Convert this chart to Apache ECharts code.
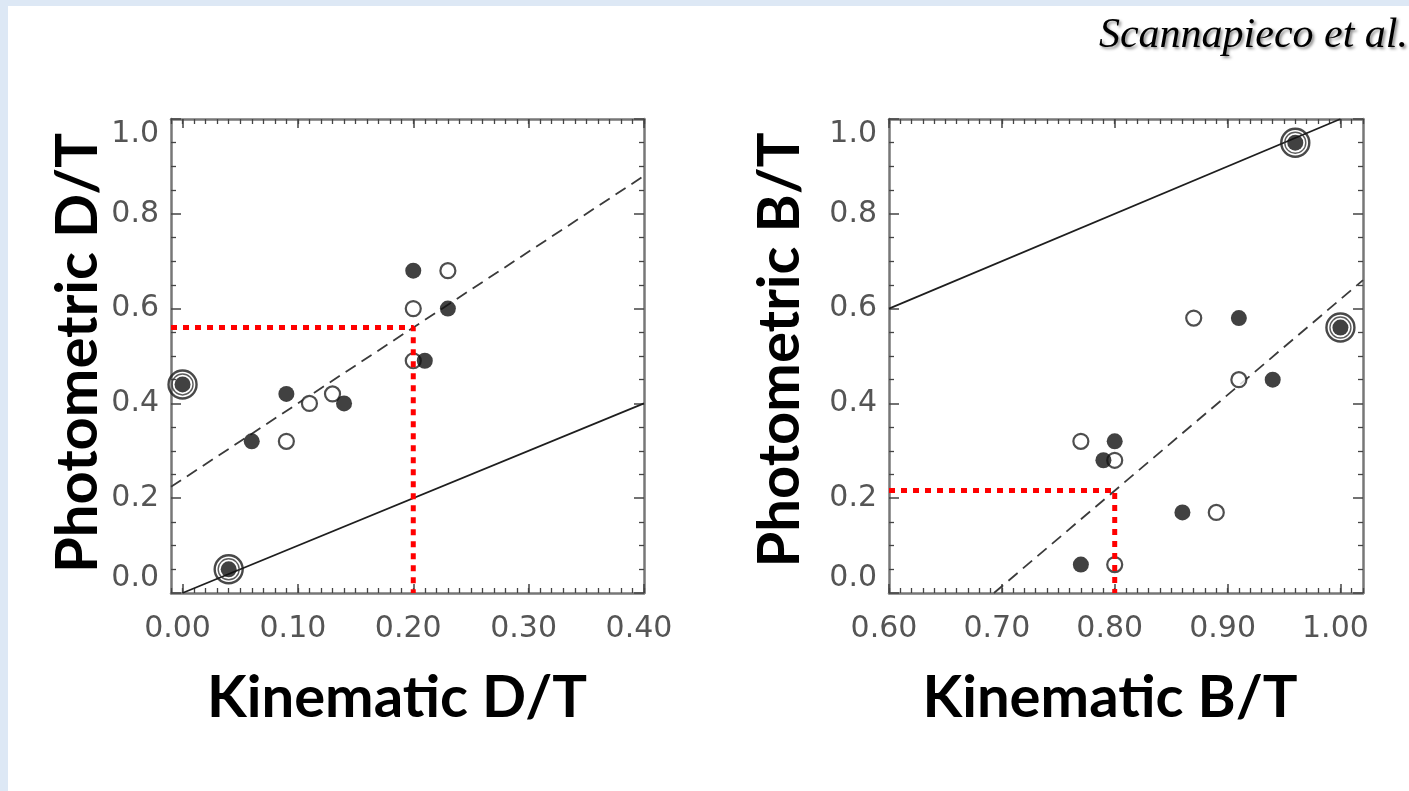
<!DOCTYPE html>
<html>
<head>
<meta charset="utf-8">
<script src="https://cdn.jsdelivr.net/npm/echarts@6/dist/echarts.min.js"></script>
<style>
  html, body { margin: 0; padding: 0; background: #ffffff; }
  #chart { width: 1409px; height: 791px; }
</style>
</head>
<body>
<div id="chart"></div>
<script>
// ---------------- DATA ----------------
// Left panel: Kinematic D/T (x) vs Photometric D/T (y)
const dtFilledX = [0.00, 0.04, 0.06, 0.09, 0.14, 0.20, 0.23, 0.21];
const dtFilledY = [0.44, 0.05, 0.32, 0.42, 0.40, 0.68, 0.60, 0.49];
const dtOpenX   = [0.09, 0.11, 0.13, 0.20, 0.23, 0.20];
const dtOpenY   = [0.32, 0.40, 0.42, 0.60, 0.68, 0.49];
const dtRingX   = [0.00, 0.04];
const dtRingY   = [0.44, 0.05];
const dtOneToOneX = [0.00, 0.40];
const dtOneToOneY = [0.00, 0.40];
const dtFitX    = [-0.01, 0.40];
const dtFitY    = [0.224, 0.88];
const dtGuideX  = [-0.01, 0.20, 0.20];
const dtGuideY  = [0.56, 0.56, 0.00];

// Right panel: Kinematic B/T (x) vs Photometric B/T (y)
const btFilledX = [0.96, 1.00, 0.91, 0.94, 0.80, 0.79, 0.86, 0.77];
const btFilledY = [0.95, 0.56, 0.58, 0.45, 0.32, 0.28, 0.17, 0.06];
const btOpenX   = [0.87, 0.91, 0.77, 0.80, 0.89, 0.80];
const btOpenY   = [0.58, 0.45, 0.32, 0.28, 0.17, 0.06];
const btRingX   = [0.96, 1.00];
const btRingY   = [0.95, 0.56];
const btOneToOneX = [0.60, 1.00];
const btOneToOneY = [0.60, 1.00];
const btFitX    = [0.693, 1.02];
const btFitY    = [0.00, 0.66];
const btGuideX  = [0.60, 0.80, 0.80];
const btGuideY  = [0.216, 0.216, 0.00];

// Axis ranges / tick labels
const dtXRange = [-0.01, 0.40];
const dtXMajor = [0.00, 0.40];
const btXRange = [0.60, 1.02];
const btXMajor = [0.60, 1.00];
const yRange   = [0.0, 1.0];

const titles = {
  dtX: 'Kinematic D/T', dtY: 'Photometric D/T',
  btX: 'Kinematic B/T', btY: 'Photometric B/T',
  credit: 'Scannapieco et al.'
};

// ---------------- LAYOUT / STYLE ----------------
const zip = (xs, ys) => xs.map((x, i) => [x, ys[i]]);
const PANEL_TOP = 119, PANEL_H = 474;
const L = { left: 171, width: 473 };
const R = { left: 889, width: 474 };
const AX = '#777';
const TK = '#444';
const LABEL_FONT = 'DejaVu Sans';
const TITLE_FONT = 'bold 58px Lato';

function majorRect(box, range, major) {
  const span = range[1] - range[0];
  return {
    left: box.left + (major[0] - range[0]) / span * box.width,
    width: (major[1] - major[0]) / span * box.width
  };
}
const Lm = majorRect(L, dtXRange, dtXMajor);
const Rm = majorRect(R, btXRange, btXMajor);

function grid(r) {
  return { left: r.left, top: PANEL_TOP, width: r.width, height: PANEL_H,
           containLabel: false, outerBoundsMode: 'none' };
}

function boxX(gi, range, pos) {
  return {
    type: 'value', gridIndex: gi, position: pos, min: range[0], max: range[1], interval: 0.01,
    axisLine: { show: true, onZero: false, lineStyle: { color: AX, width: 2.5 } },
    axisTick: { show: true, inside: true, length: 5, lineStyle: { color: TK, width: 1.3 } },
    axisLabel: { show: false }, splitLine: { show: false }
  };
}
function majorX(gi, range, pos, labels) {
  return {
    type: 'value', gridIndex: gi, position: pos, min: range[0], max: range[1], interval: 0.1,
    axisLine: { show: false, onZero: false },
    axisTick: { show: true, inside: true, length: 9, lineStyle: { color: TK, width: 1.5 } },
    axisLabel: labels ? {
      show: true, margin: 21, color: '#555', fontFamily: LABEL_FONT, fontSize: 30,
      padding: [0, 10, 0, 0],
      formatter: v => Number(v).toFixed(2)
    } : { show: false },
    splitLine: { show: false }
  };
}
function boxY(gi, pos, labels) {
  return {
    type: 'value', gridIndex: gi, position: pos, min: yRange[0], max: yRange[1], interval: 0.2,
    axisLine: { show: true, onZero: false, lineStyle: { color: AX, width: 2.5 } },
    axisTick: { show: true, inside: true, length: 10, lineStyle: { color: TK, width: 1.5 } },
    minorTick: { show: true, splitNumber: 4, length: 5, lineStyle: { color: TK, width: 1.3 } },
    axisLabel: labels ? {
      show: true, margin: 12, color: '#555', fontFamily: LABEL_FONT, fontSize: 30,
      verticalAlignMinLabel: 'bottom', verticalAlignMaxLabel: 'top',
      formatter: v => Number(v).toFixed(1)
    } : { show: false },
    splitLine: { show: false }, minorSplitLine: { show: false }
  };
}
function hiddenY(gi) {
  return { type: 'value', gridIndex: gi, min: yRange[0], max: yRange[1], show: false };
}

function panelSeries(xi, yi, d) {
  return [
    { type: 'line', xAxisIndex: xi, yAxisIndex: yi, data: zip(d.oneX, d.oneY), symbol: 'none',
      lineStyle: { color: '#1e1e1e', width: 1.7 }, z: 3, silent: true },
    { type: 'line', xAxisIndex: xi, yAxisIndex: yi, data: zip(d.fitX, d.fitY), symbol: 'none',
      lineStyle: { color: '#3a3a3a', width: 1.8, type: [12, 7] }, z: 3, silent: true },
    { type: 'scatter', xAxisIndex: xi, yAxisIndex: yi, data: zip(d.ringX, d.ringY), symbol: 'circle',
      symbolSize: 28, itemStyle: { color: 'rgba(255,255,255,0)', borderColor: '#1a1a1a', borderWidth: 2.4 }, z: 4, silent: true },
    { type: 'scatter', xAxisIndex: xi, yAxisIndex: yi, data: zip(d.ringX, d.ringY), symbol: 'circle',
      symbolSize: 21, itemStyle: { color: 'rgba(255,255,255,0)', borderColor: '#333', borderWidth: 1.4 }, z: 4, silent: true },
    { type: 'scatter', xAxisIndex: xi, yAxisIndex: yi, data: zip(d.openX, d.openY), symbol: 'circle',
      symbolSize: 15, itemStyle: { color: '#fff', borderColor: '#222', borderWidth: 2.2 }, z: 5, silent: true },
    { type: 'scatter', xAxisIndex: xi, yAxisIndex: yi, data: zip(d.fillX, d.fillY), symbol: 'circle',
      symbolSize: 16, itemStyle: { color: '#111' }, z: 5, silent: true },
    { type: 'line', xAxisIndex: xi, yAxisIndex: yi, data: zip(d.guideX, d.guideY), symbol: 'none',
      lineStyle: { color: '#ff0000', width: 5, type: [6, 6], cap: 'butt' }, z: 8, silent: true }
  ];
}

function txt(x, y, text, font, rot, align) {
  const a = align || 'center';
  return { type: 'text', x: x, y: y, rotation: rot || 0, silent: true,
    style: { text: text, font: font, fill: '#000', align: a, verticalAlign: 'middle',
             textAlign: a, textVerticalAlign: 'middle' } };
}

const credit = txt(1408, 36, titles.credit, 'italic 42px "Liberation Serif"', 0, 'right');
Object.assign(credit.style, {
  shadowColor: 'rgba(0,0,0,0.45)', shadowBlur: 3, shadowOffsetX: 2, shadowOffsetY: 2,
  textShadowColor: 'rgba(0,0,0,0.45)', textShadowBlur: 3, textShadowOffsetX: 2, textShadowOffsetY: 2
});

const option = {
  animation: false,
  backgroundColor: '#ffffff',
  grid: [grid(L), grid(Lm), grid(R), grid(Rm)],
  xAxis: [
    boxX(0, dtXRange, 'bottom'), boxX(0, dtXRange, 'top'),
    majorX(1, dtXMajor, 'bottom', true), majorX(1, dtXMajor, 'top', false),
    boxX(2, btXRange, 'bottom'), boxX(2, btXRange, 'top'),
    majorX(3, btXMajor, 'bottom', true), majorX(3, btXMajor, 'top', false)
  ],
  yAxis: [
    boxY(0, 'left', true), boxY(0, 'right', false), hiddenY(1),
    boxY(2, 'left', true), boxY(2, 'right', false), hiddenY(3)
  ],
  series: [
    ...panelSeries(0, 0, { oneX: dtOneToOneX, oneY: dtOneToOneY, fitX: dtFitX, fitY: dtFitY,
      ringX: dtRingX, ringY: dtRingY, openX: dtOpenX, openY: dtOpenY,
      fillX: dtFilledX, fillY: dtFilledY, guideX: dtGuideX, guideY: dtGuideY }),
    ...panelSeries(4, 3, { oneX: btOneToOneX, oneY: btOneToOneY, fitX: btFitX, fitY: btFitY,
      ringX: btRingX, ringY: btRingY, openX: btOpenX, openY: btOpenY,
      fillX: btFilledX, fillY: btFilledY, guideX: btGuideX, guideY: btGuideY })
  ],
  graphic: [
    { type: 'rect', shape: { x: 0, y: 0, width: 1409, height: 6 }, style: { fill: '#dde8f5' }, z: -10, silent: true },
    { type: 'rect', shape: { x: 0, y: 0, width: 8, height: 791 }, style: { fill: '#dde8f5' }, z: -10, silent: true },
    txt(397, 698, titles.dtX, TITLE_FONT),
    txt(1110, 698, titles.btX, TITLE_FONT),
    txt(78, 353, titles.dtY, TITLE_FONT, Math.PI / 2),
    txt(780, 350, titles.btY, TITLE_FONT, Math.PI / 2),
    credit
  ]
};

const chart = echarts.init(document.getElementById('chart'), null, { renderer: 'canvas', width: 1409, height: 791 });
chart.setOption(option);
</script>
</body>
</html>
